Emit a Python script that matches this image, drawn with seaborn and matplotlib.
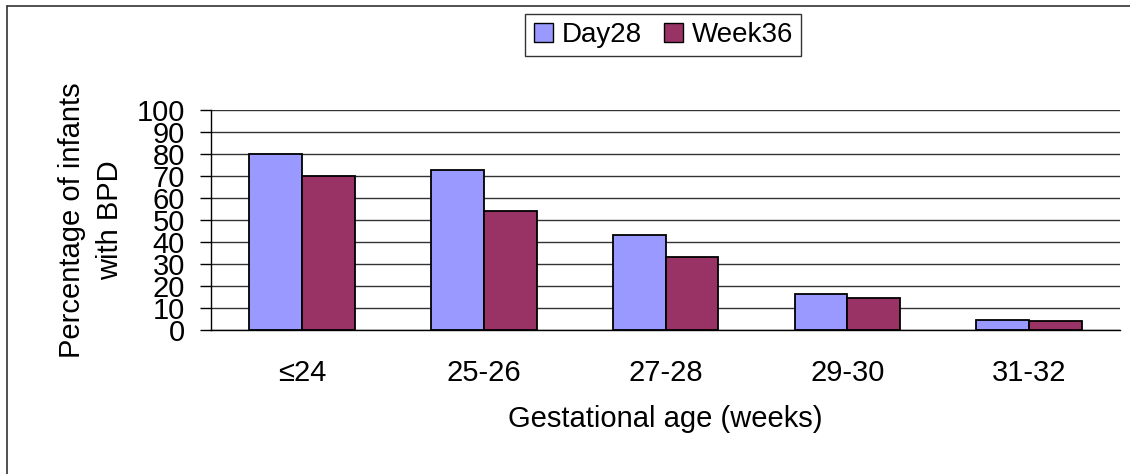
import pandas as pd
import matplotlib.pyplot as plt
import matplotlib.lines as mlines
import seaborn as sns

# Values
ages = ['≤24', '25-26', '27-28', '29-30', '31-32']
day28 = [80, 72.5, 43, 16.5, 4.5]
week36 = [70, 54, 33, 14.5, 4]
series = ['Day28', 'Week36']
colors = ['#9999FF', '#993366']

df = pd.DataFrame({
    'age': ages * 2,
    'pct': day28 + week36,
    'series': [series[0]] * len(ages) + [series[1]] * len(ages),
})

sns.set_style('white')
plt.rcParams['font.family'] = ['Liberation Sans', 'DejaVu Sans']
plt.rcParams['font.size'] = 21
plt.rcParams['text.color'] = 'black'
plt.rcParams['axes.labelcolor'] = 'black'
plt.rcParams['xtick.color'] = 'black'
plt.rcParams['ytick.color'] = 'black'

fig = plt.figure(figsize=(11.3, 4.74), dpi=100)
ax = fig.add_axes([0.187, 0.304, 0.804, 0.464])

sns.barplot(data=df, x='age', y='pct', hue='series', palette=colors, saturation=1,
            width=0.58, edgecolor='black', linewidth=1.3, ax=ax, legend=False)

ax.set_ylim(0, 100)
ax.set_xlim(-0.5, len(ages) - 0.5)
ax.set_yticks(range(0, 101, 10))
ax.yaxis.grid(True, color='#333333', linewidth=1)
ax.set_axisbelow(True)
for s in ['top', 'right']:
    ax.spines[s].set_visible(False)
for s in ['left', 'bottom']:
    ax.spines[s].set_color('black')
    ax.spines[s].set_linewidth(1)

# category separators as minor ticks
ax.set_xticks([i - 0.5 for i in range(len(ages) + 1)], minor=True)
ax.tick_params(axis='x', which='major', length=0, pad=21, labelsize=21)
ax.tick_params(axis='x', which='minor', length=8, width=1, color='black', direction='out')
ax.tick_params(axis='y', length=8, width=1, color='black', direction='out',
               left=True, pad=11, labelsize=21)

ax.set_xlabel('Gestational age (weeks)', fontsize=21, labelpad=13)
ax.set_ylabel('Percentage of infants\nwith BPD', fontsize=21, labelpad=9,
              linespacing=1.45)

handles = [plt.Rectangle((0, 0), 1, 1, facecolor=c, edgecolor='black', linewidth=1)
           for c in colors]
leg = fig.legend(handles, series, loc='center', bbox_to_anchor=(0.587, 0.926),
                 ncol=2, frameon=True, fancybox=False, fontsize=20,
                 handlelength=0.7, handleheight=0.7, handletextpad=0.3,
                 columnspacing=0.8, borderpad=0.3, borderaxespad=0)
leg.get_frame().set_edgecolor('black')
leg.get_frame().set_linewidth(1)

# outer chart frame (top and left edges visible)
fig.add_artist(mlines.Line2D([7 / 1130, 1.0], [1 - 6 / 474, 1 - 6 / 474],
                             color='#333333', linewidth=1.2))
fig.add_artist(mlines.Line2D([7 / 1130, 7 / 1130], [0.0, 1 - 6 / 474],
                             color='#333333', linewidth=1.2))

fig.savefig('out.png', dpi=100)
